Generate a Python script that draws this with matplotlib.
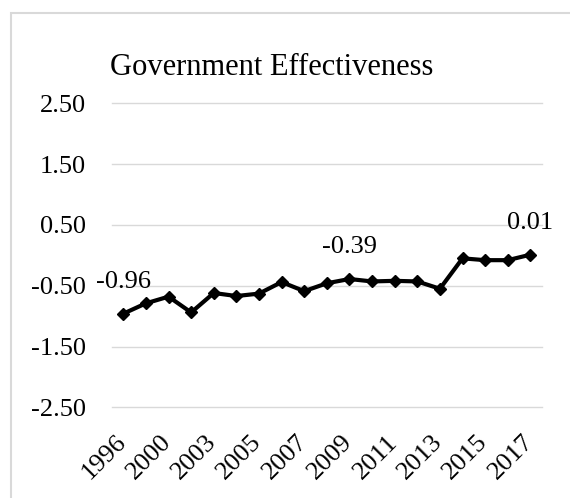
import matplotlib.pyplot as plt
from matplotlib.patches import Rectangle
from matplotlib.transforms import ScaledTranslation

years = ["1996", "1998", "2000", "2002", "2003", "2004", "2005", "2006", "2007", "2008",
         "2009", "2010", "2011", "2012", "2013", "2014", "2015", "2016", "2017"]
values = [-0.96, -0.79, -0.68, -0.94, -0.62, -0.67, -0.63, -0.44, -0.59, -0.46,
          -0.39, -0.43, -0.42, -0.43, -0.55, -0.05, -0.08, -0.08, 0.01]
labelled = ["1996", "2009", "2017"]
yticks = [-2.5, -1.5, -0.5, 0.5, 1.5, 2.5]

plt.rcParams['font.family'] = ['Liberation Serif', 'DejaVu Serif']

fig = plt.figure(figsize=(5.7, 4.98), dpi=100)
ax = fig.add_axes([0.1965, 0.1821, 0.7538, 0.6105])

# chart border (cropped on the right and bottom)
fig.patches.append(Rectangle((11 / 570, -0.1), 1.2, 1 - 13 / 498 + 0.1,
                             transform=fig.transFigure, fill=False,
                             edgecolor='#d9d9d9', linewidth=1.5))

x = list(range(len(years)))
ax.plot(x, values, color='black', linewidth=3, marker='D', markersize=6, zorder=3)

for i, (yr, v) in enumerate(zip(years, values)):
    if yr in labelled:
        ax.annotate(f"{v:.2f}", (i, v), xytext=(0, 23), textcoords='offset points',
                    ha='center', va='center', fontsize=19)

ax.set_xlim(-0.5, len(years) - 0.5)
ax.set_ylim(-2.5, 2.5)
ax.set_yticks(yticks)
ax.set_yticklabels([f"{t:.2f}" for t in yticks], fontsize=19)
ax.set_xticks(x[::2])
ax.set_xticklabels(years[::2], fontsize=19, rotation=45, ha='right')
ax.tick_params(axis='y', length=0, pad=19)
ax.tick_params(axis='x', length=0, pad=17)
shift = ScaledTranslation(7 / 100, 0, fig.dpi_scale_trans)
for lbl in ax.get_xticklabels():
    lbl.set_transform(lbl.get_transform() + shift)
ax.grid(axis='y', color='#d9d9d9', linewidth=1)
for gl in ax.get_ygridlines():
    gl.set_clip_on(False)
for s in ax.spines.values():
    s.set_visible(False)

fig.text(271.7 / 570, 1 - 75 / 498, "Government Effectiveness", ha='center',
         va='baseline', fontsize=22)

fig.savefig("out.png", dpi=100)
